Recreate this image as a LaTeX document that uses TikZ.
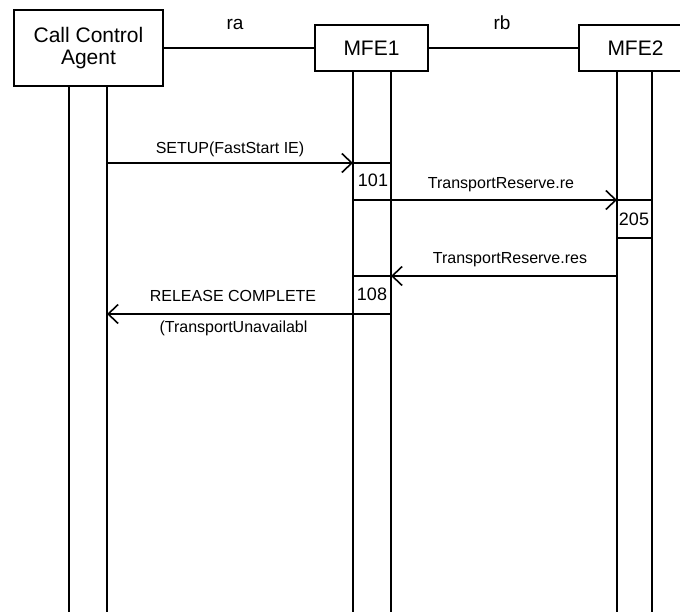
\documentclass[tikz,border=0pt]{standalone}
\usepackage{fontspec}
\setmainfont{Liberation Sans}
\usetikzlibrary{arrows.meta}
\begin{document}
\begin{tikzpicture}[x=1pt,y=-1pt, line width=1.6pt,
 entity/.style={draw, minimum height=46pt, inner sep=0pt, font=\fontsize{21}{22.5}\selectfont, align=center},
 msg/.style={-{Straight Barb[length=10pt,width=19pt]}},
 lbl/.style={font=\fontsize{16}{18}\selectfont, anchor=base, inner sep=0pt},
 num/.style={font=\fontsize{18}{20}\selectfont, anchor=base, inner sep=0pt},
 iface/.style={font=\fontsize{19}{21}\selectfont, anchor=base, inner sep=0pt}]
\useasboundingbox (0,0) rectangle (680,612);
\clip (0,0) rectangle (680,612);
% entities
\node[entity, minimum width=149pt, minimum height=76pt] (cca) at (88.5,48) {Call Control\\Agent};
\node[entity, minimum width=113pt] (mfe1) at (371.5,48) {MFE1};
\node[entity, minimum width=113pt] (mfe2) at (635.5,48) {MFE2};
\draw (cca) -- (mfe1);
\draw (mfe1) -- (mfe2);
\node[iface] (ra) at (235,30) {ra};
\node[iface] (rb) at (502,30) {rb};
% lifeline coordinates
\coordinate (a1) at (69,612);
\coordinate (a2) at (107,612);
\coordinate (b1) at (353,612);
\coordinate (b2) at (391,612);
\coordinate (d1) at (617,612);
\coordinate (d2) at (652,612);
\draw (a1 |- cca.south) -- (a1);
\draw (a2 |- cca.south) -- (a2);
\draw (b1 |- mfe1.south) -- (b1);
\draw (b2 |- mfe1.south) -- (b2);
\draw (d1 |- mfe2.south) -- (d1);
\draw (d2 |- mfe2.south) -- (d2);
% message levels
\coordinate (y1) at (0,163);
\coordinate (y2) at (0,200);
\coordinate (y3) at (0,238);
\coordinate (y4) at (0,276);
\coordinate (y5) at (0,314);
% SETUP
\draw[msg] (a2 |- y1) -- (b1 |- y1);
\draw (b1 |- y1) -- (b2 |- y1);
\node[lbl] (setup) at (230,154) {SETUP(FastStart IE)};
\node[num] (n101) at (373,186.7) {101};
% TransportReserve.re
\draw (b1 |- y2) -- (b2 |- y2);
\draw[msg] (b2 |- y2) -- (d1 |- y2);
\draw (d1 |- y2) -- (d2 |- y2);
\node[lbl] (tre) at (501,189) {TransportReserve.re};
\node[num] (n205) at (634,226) {205};
\draw (d1 |- y3) -- (d2 |- y3);
% TransportReserve.res
\draw[msg] (d1 |- y4) -- (b2 |- y4);
\draw (b2 |- y4) -- (b1 |- y4);
\node[lbl] (tres) at (510,264) {TransportReserve.res};
\node[num] (n108) at (372,300.7) {108};
% RELEASE COMPLETE
\draw (b2 |- y5) -- (b1 |- y5);
\draw[msg] (b1 |- y5) -- (a2 |- y5);
\node[lbl] (rel) at (233,301.7) {RELEASE COMPLETE};
\node[lbl] (cause) at (233.5,333) {(TransportUnavailabl};
\end{tikzpicture}
\end{document}
